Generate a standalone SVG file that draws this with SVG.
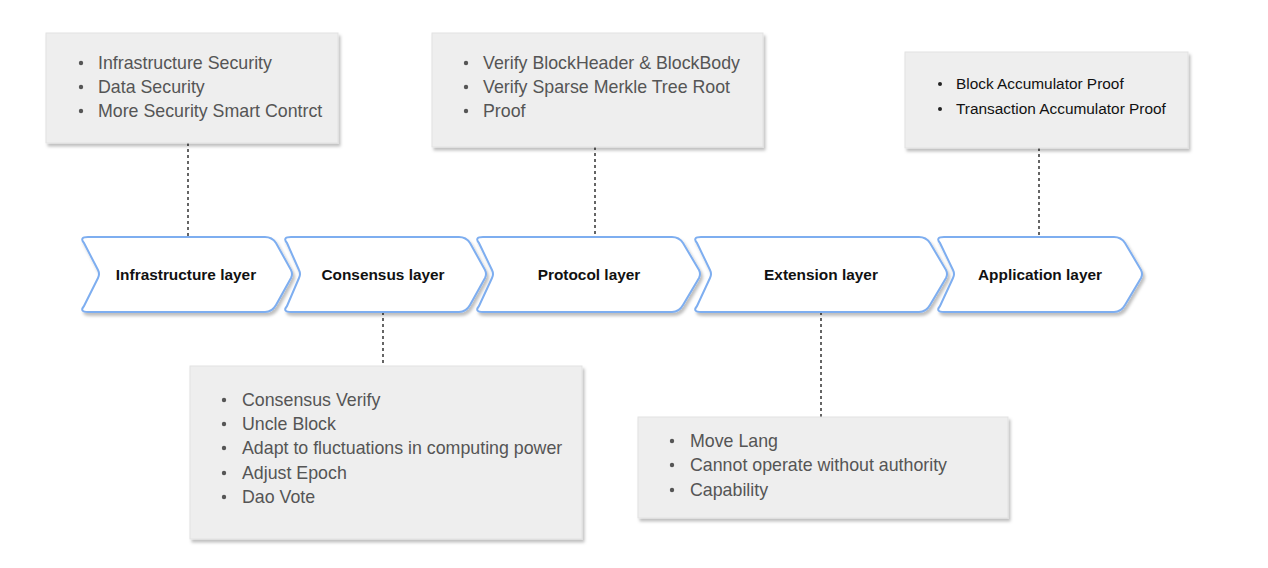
<svg xmlns="http://www.w3.org/2000/svg" width="1268" height="568" viewBox="0 0 1268 568">
<defs>
<filter id="sh" x="-10%" y="-10%" width="130%" height="140%">
<feDropShadow dx="2" dy="3" stdDeviation="1.5" flood-color="#000" flood-opacity="0.25"/>
</filter>
</defs>
<style>
.box{fill:#eeeeee;stroke:#e2e2e2;stroke-width:1;filter:url(#sh)}
.chev{fill:#ffffff;stroke:#7eaef0;stroke-width:2;stroke-linejoin:round;filter:url(#sh)}
.lbl{font-family:"Liberation Sans",Arial,sans-serif;font-weight:bold;font-size:15.4px;fill:#111;text-anchor:middle}
.li{font-family:"Liberation Sans",Arial,sans-serif;font-size:17.8px;fill:#555}
.li2{font-family:"Liberation Sans",Arial,sans-serif;font-size:15.4px;fill:#111}
.dot{fill:#555}
.dot2{fill:#222}
.con{stroke:#333;stroke-width:1.5;stroke-dasharray:3 3;fill:none}
</style>
<rect width="1268" height="568" fill="#ffffff"/>
<g id="connectors">
<line class="con" x1="188" y1="143" x2="188" y2="237"/>
<line class="con" x1="383" y1="312" x2="383" y2="366"/>
<line class="con" x1="595" y1="147" x2="595" y2="237"/>
<line class="con" x1="821" y1="312" x2="821" y2="417"/>
<line class="con" x1="1039" y1="148" x2="1039" y2="237"/>
</g>
<g id="note-infra">
<rect class="box" x="46" y="33" width="292" height="110"/>
<circle class="dot" cx="81" cy="63" r="2.2"/><text class="li" x="98" y="69">Infrastructure Security</text>
<circle class="dot" cx="81" cy="87" r="2.2"/><text class="li" x="98" y="93">Data Security</text>
<circle class="dot" cx="81" cy="111" r="2.2"/><text class="li" x="98" y="117">More Security Smart Contrct</text>
</g>
<g id="note-protocol">
<rect class="box" x="432" y="33" width="331" height="114"/>
<circle class="dot" cx="466" cy="63" r="2.2"/><text class="li" x="483" y="69">Verify BlockHeader &amp; BlockBody</text>
<circle class="dot" cx="466" cy="87" r="2.2"/><text class="li" x="483" y="93">Verify Sparse Merkle Tree Root</text>
<circle class="dot" cx="466" cy="111" r="2.2"/><text class="li" x="483" y="117">Proof</text>
</g>
<g id="note-application">
<rect class="box" x="905" y="52" width="283" height="96"/>
<circle class="dot2" cx="940" cy="84" r="2"/><text class="li2" x="956" y="89">Block Accumulator Proof</text>
<circle class="dot2" cx="940" cy="109" r="2"/><text class="li2" x="956" y="114">Transaction Accumulator Proof</text>
</g>
<g id="note-consensus">
<rect class="box" x="190" y="366" width="392" height="173"/>
<circle class="dot" cx="224" cy="400" r="2.2"/><text class="li" x="242" y="406">Consensus Verify</text>
<circle class="dot" cx="224" cy="424" r="2.2"/><text class="li" x="242" y="430">Uncle Block</text>
<circle class="dot" cx="224" cy="448" r="2.2"/><text class="li" x="242" y="454">Adapt to fluctuations in computing power</text>
<circle class="dot" cx="224" cy="473" r="2.2"/><text class="li" x="242" y="479">Adjust Epoch</text>
<circle class="dot" cx="224" cy="497" r="2.2"/><text class="li" x="242" y="503">Dao Vote</text>
</g>
<g id="note-extension">
<rect class="box" x="638" y="417" width="370" height="101"/>
<circle class="dot" cx="672" cy="441" r="2.2"/><text class="li" x="690" y="447">Move Lang</text>
<circle class="dot" cx="672" cy="465" r="2.2"/><text class="li" x="690" y="471">Cannot operate without authority</text>
<circle class="dot" cx="672" cy="490" r="2.2"/><text class="li" x="690" y="496">Capability</text>
</g>
<g id="infrastructure-layer">
<path class="chev" d="M88,237 H265 Q272,237 276,243 L291,270 Q293,274 291,278 L276,305 Q272,312 265,312 H88 Q79,312 84,306 L98,278 Q100,274 98,270 L84,243 Q79,237 88,237 Z"/>
<text class="lbl" x="186" y="280">Infrastructure layer</text>
</g>
<g id="consensus-layer">
<path class="chev" d="M291,237 H459 Q466,237 470,243 L485,270 Q487,274 485,278 L470,305 Q466,312 459,312 H291 Q282,312 287,306 L299,278 Q301,274 299,270 L287,243 Q282,237 291,237 Z"/>
<text class="lbl" x="383" y="280">Consensus layer</text>
</g>
<g id="protocol-layer">
<path class="chev" d="M483,237 H672 Q679,237 683,243 L699,270 Q701,274 699,278 L683,305 Q679,312 672,312 H483 Q474,312 479,306 L492,278 Q494,274 492,270 L479,243 Q474,237 483,237 Z"/>
<text class="lbl" x="589" y="280">Protocol layer</text>
</g>
<g id="extension-layer">
<path class="chev" d="M701,237 H919 Q926,237 930,243 L946,270 Q948,274 946,278 L930,305 Q926,312 919,312 H701 Q692,312 697,306 L710,278 Q712,274 710,270 L697,243 Q692,237 701,237 Z"/>
<text class="lbl" x="821" y="280">Extension layer</text>
</g>
<g id="application-layer">
<path class="chev" d="M944,237 H1114 Q1121,237 1125,243 L1141,270 Q1143,274 1141,278 L1125,305 Q1121,312 1114,312 H944 Q935,312 940,306 L953,278 Q955,274 953,270 L940,243 Q935,237 944,237 Z"/>
<text class="lbl" x="1040" y="280">Application layer</text>
</g>
</svg>
